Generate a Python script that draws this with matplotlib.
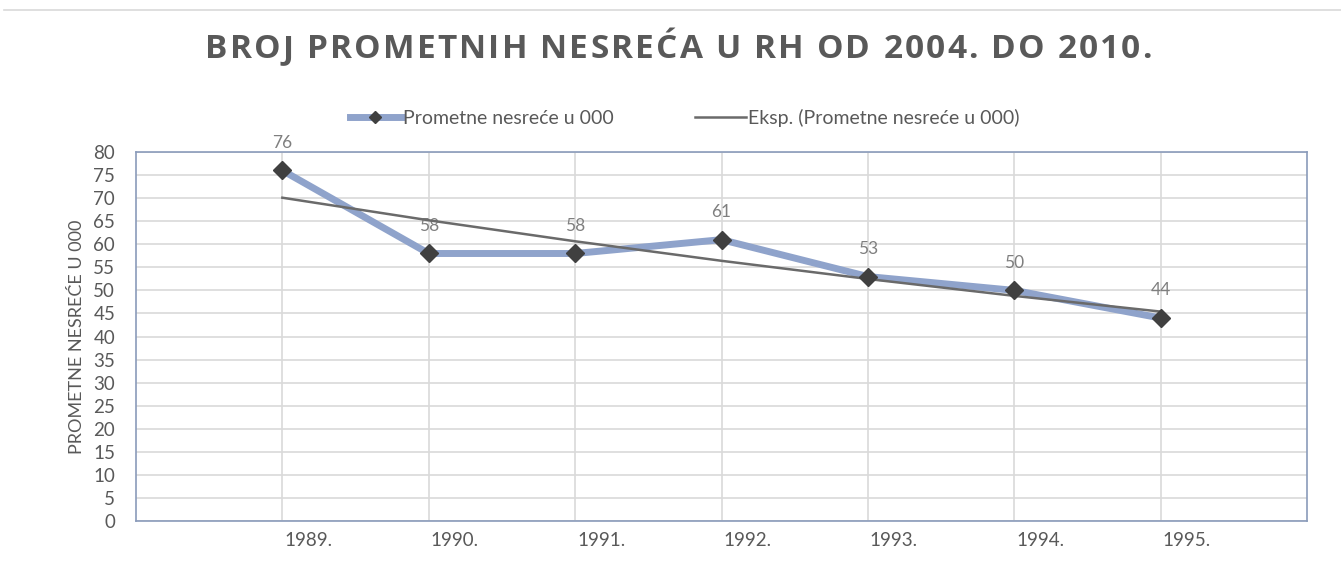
import numpy as np
import matplotlib
matplotlib.use("Agg")
import matplotlib.pyplot as plt
import matplotlib.transforms as mtransforms
from matplotlib.lines import Line2D

# data
years = ["1989.", "1990.", "1991.", "1992.", "1993.", "1994.", "1995."]
accidents = [76, 58, 58, 61, 53, 50, 44]

title = "BROJ PROMETNIH NESREĆA U RH OD 2004. DO 2010."
ylabel = "PROMETNE NESREĆE U 000"
series_name = "Prometne nesreće u 000"
trend_name = "Eksp. (Prometne nesreće u 000)"

plt.rcParams["font.family"] = ["Lato", "DejaVu Sans"]

x = np.arange(len(years))
y = np.array(accidents, dtype=float)

# exponential trendline (Excel style least squares on ln y)
b, a = np.polyfit(x + 1, np.log(y), 1)
trend = np.exp(a + b * (x + 1))

fig = plt.figure(figsize=(13.41, 5.66), dpi=100)
ax = fig.add_axes([0.1014, 0.0795, 0.8733, 0.6519])

line_col = "#8FA3CB"
ax.plot(x, y, color=line_col, lw=5, solid_capstyle="round", zorder=3)
ax.plot(x, y, ls="none", marker="D", ms=9.5, color="#404040", zorder=5)
ax.plot(x, trend, color="#6A6A6A", lw=1.8, zorder=4)

for xi, yi in zip(x, accidents):
    ax.annotate(str(yi), (xi, yi), xytext=(0, 20), textcoords="offset points",
                ha="center", va="center", fontsize=12.5, color="#7F7F7F")

ax.set_xlim(-1, 7)
ax.set_ylim(0, 80)
ax.set_yticks(np.arange(0, 81, 5))
ax.set_xticks(x)
ax.set_xticklabels(years, ha="left")
ax.grid(True, color="#D9D9D9", lw=1.2)
ax.set_axisbelow(True)
ax.tick_params(length=0, labelsize=13.5, colors="#595959", pad=8)
ax.tick_params(axis="y", pad=15)
shift = mtransforms.ScaledTranslation(2 / 100, 0, fig.dpi_scale_trans)
for lbl in ax.get_xticklabels():
    lbl.set_transform(lbl.get_transform() + shift)
for s in ax.spines.values():
    s.set_color("#8A9BBA")
    s.set_linewidth(1.2)

ax.set_ylabel(ylabel, fontsize=13, color="#595959", labelpad=6)

# title with wide letter spacing, placed char by char
r = fig.canvas.get_renderer()
tkw = dict(fontsize=24, fontweight="bold", color="#595959",
           family=["Open Sans", "DejaVu Sans"])


def text_w(s):
    t = fig.text(0, 0, s, **tkw)
    w = t.get_window_extent(r).width
    t.remove()
    return w


base = text_w("HH")
widths = [text_w("H" + ch + "H") - base for ch in title]
target_w = 947.0
left_px = 205.0
extra = (target_w - sum(widths)) / (len(title) - 1)
xpos = left_px
W, H = fig.bbox.width, fig.bbox.height
for ch, w in zip(title, widths):
    fig.text(xpos / W, 1 - 50 / H, ch, ha="left", va="center", **tkw)
    xpos += w + extra

handles = [
    Line2D([], [], color=line_col, lw=5, marker="D", ms=6.5,
           markerfacecolor="#404040", markeredgecolor="#404040"),
    Line2D([], [], color="#6A6A6A", lw=1.8),
]
fig.legend(handles, [series_name, trend_name], loc="center", ncol=2,
           bbox_to_anchor=(0.5105, 0.792), frameon=False, fontsize=14,
           labelcolor="#595959", handlelength=2.6, handletextpad=0.1,
           columnspacing=4.2)

# thin line at top of image
fig.add_artist(Line2D([0.003, 1.0], [0.982, 0.982], transform=fig.transFigure,
                      color="#D9D9D9", lw=1.2))

fig.savefig("out.png", dpi=100)
